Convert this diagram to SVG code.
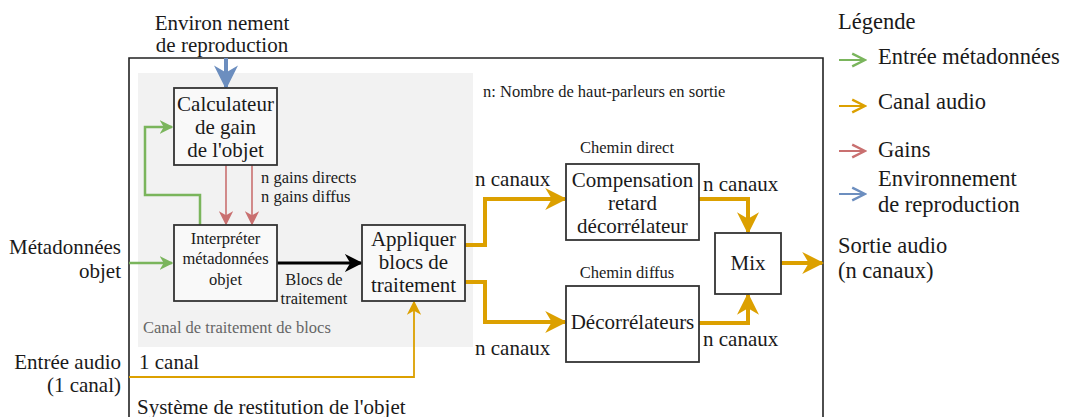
<svg xmlns="http://www.w3.org/2000/svg" width="1067" height="417" viewBox="0 0 1067 417">
<defs>
<style>
text{font-family:"Liberation Serif","Times New Roman",serif}
.xl{font-size:22.5px}
.l{font-size:21px}
.m{font-size:16.5px}
.s{font-size:16.5px}
.box{fill:#f9f9f9;stroke:#333;stroke-width:1.8}
.g{fill:none;stroke:#7ab55c;stroke-width:2.5}
.o{fill:none;stroke:#dca000;stroke-width:4}
.ot{fill:none;stroke:#dca000;stroke-width:1.8}
.r{fill:none;stroke:#c97070;stroke-width:1.6}
.b{fill:none;stroke:#6c8ebf;stroke-width:4}
</style>
<marker id="ag" viewBox="0 0 10 10" refX="9" refY="5" markerWidth="5.5" markerHeight="5.5" orient="auto" markerUnits="strokeWidth"><path d="M0,0 L10,5 L0,10 L3,5 z" fill="#7ab55c"/></marker>
<marker id="ao" viewBox="0 0 10 10" refX="9" refY="5" markerWidth="5.5" markerHeight="5.5" orient="auto" markerUnits="strokeWidth"><path d="M0,0 L10,5 L0,10 L3,5 z" fill="#dca000"/></marker>
<marker id="aot" viewBox="0 0 10 10" refX="9" refY="5" markerWidth="8" markerHeight="8" orient="auto" markerUnits="strokeWidth"><path d="M0,0 L10,5 L0,10 L3,5 z" fill="#dca000"/></marker>
<marker id="ar" viewBox="0 0 10 10" refX="9" refY="5" markerWidth="9" markerHeight="9" orient="auto" markerUnits="strokeWidth"><path d="M0,0 L10,5 L0,10 L3,5 z" fill="#c97070"/></marker>
<marker id="ab" viewBox="0 0 10 10" refX="9" refY="5" markerWidth="6" markerHeight="6" orient="auto" markerUnits="strokeWidth"><path d="M0,0 L10,5 L0,10 L3,5 z" fill="#6c8ebf"/></marker>
<marker id="ak" viewBox="0 0 10 10" refX="9" refY="5" markerWidth="6" markerHeight="6" orient="auto" markerUnits="strokeWidth"><path d="M0,0 L10,5 L0,10 L3,5 z" fill="#000"/></marker>
<marker id="lg" viewBox="0 0 10 10" refX="9" refY="5" markerWidth="8" markerHeight="8" orient="auto" markerUnits="strokeWidth"><path d="M1,1 L9,5 L1,9" fill="none" stroke="#7ab55c" stroke-width="1.5"/></marker>
<marker id="lo" viewBox="0 0 10 10" refX="9" refY="5" markerWidth="8" markerHeight="8" orient="auto" markerUnits="strokeWidth"><path d="M1,1 L9,5 L1,9" fill="none" stroke="#dca000" stroke-width="1.5"/></marker>
<marker id="lr" viewBox="0 0 10 10" refX="9" refY="5" markerWidth="8" markerHeight="8" orient="auto" markerUnits="strokeWidth"><path d="M1,1 L9,5 L1,9" fill="none" stroke="#c97070" stroke-width="1.5"/></marker>
<marker id="lb" viewBox="0 0 10 10" refX="9" refY="5" markerWidth="8" markerHeight="8" orient="auto" markerUnits="strokeWidth"><path d="M1,1 L9,5 L1,9" fill="none" stroke="#6c8ebf" stroke-width="1.5"/></marker>
</defs>
<rect width="1067" height="417" fill="#fff"/>
<g fill="#1a1a1a">

<g id="frame">
<path d="M129,417 L129,58 L823,58 L823,417" fill="none" stroke="#222" stroke-width="1.6"/>
<text x="137" y="414" class="l">Système de restitution de l'objet</text>
</g>

<g id="panel">
<rect x="138" y="73" width="335" height="274" fill="#f2f2f2"/>
<text x="143" y="333" class="s" fill="#666">Canal de traitement de blocs</text>
</g>

<g id="env-label">
<text x="222" y="30" class="l" text-anchor="middle">Environ nement</text>
<text x="222" y="52" class="l" text-anchor="middle">de reproduction</text>
</g>

<text x="483" y="97" class="s">n: Nombre de haut-parleurs en sortie</text>

<g id="connectors">
<line x1="226" y1="58" x2="226" y2="87" class="b" marker-end="url(#ab)"/>
<polyline points="200,225 200,195 145,195 145,127 172,127" class="g" marker-end="url(#ag)"/>
<line x1="226" y1="165" x2="226" y2="224" class="r" marker-end="url(#ar)"/>
<line x1="252" y1="165" x2="252" y2="224" class="r" marker-end="url(#ar)"/>
<line x1="129" y1="263" x2="172" y2="263" class="g" marker-end="url(#ag)"/>
<line x1="277" y1="263" x2="361" y2="263" stroke="#000" stroke-width="3" marker-end="url(#ak)"/>
<polyline points="129,377 414,377 414,302" class="ot" marker-end="url(#aot)"/>
<polyline points="465,245 485,245 485,199 565,199" class="o" marker-end="url(#ao)"/>
<polyline points="465,282 485,282 485,322 565,322" class="o" marker-end="url(#ao)"/>
<polyline points="699,199 748,199 748,232" class="o" marker-end="url(#ao)"/>
<polyline points="699,323 748,323 748,295" class="o" marker-end="url(#ao)"/>
<line x1="781" y1="263" x2="822" y2="263" class="o" marker-end="url(#ao)"/>
</g>

<g id="calc">
<rect x="174" y="88" width="103" height="77" class="box"/>
<text x="225.5" y="111" class="l" text-anchor="middle">Calculateur</text>
<text x="225.5" y="134" class="l" text-anchor="middle">de gain</text>
<text x="225.5" y="157" class="l" text-anchor="middle">de l'objet</text>
</g>

<g id="gains-label">
<text x="261" y="183" class="s">n gains  directs</text>
<text x="261" y="202" class="s">n gains  diffus</text>
</g>

<g id="interp">
<rect x="174" y="225" width="103" height="76" class="box"/>
<text x="225.5" y="244" class="m" text-anchor="middle">Interpréter</text>
<text x="225.5" y="264" class="m" text-anchor="middle">métadonnées</text>
<text x="225.5" y="285" class="m" text-anchor="middle">objet</text>
</g>

<g id="blocs-label">
<text x="314" y="285" class="m" text-anchor="middle">Blocs de</text>
<text x="314" y="304" class="m" text-anchor="middle">traitement</text>
</g>

<g id="appliquer">
<rect x="362" y="225" width="103" height="76" class="box"/>
<text x="413.5" y="246" class="l" text-anchor="middle">Appliquer</text>
<text x="413.5" y="269" class="l" text-anchor="middle">blocs de</text>
<text x="413.5" y="292" class="l" text-anchor="middle">traitement</text>
</g>

<g id="inputs">
<text x="121" y="254" class="l" text-anchor="end">Métadonnées</text>
<text x="121" y="278" class="l" text-anchor="end">objet</text>
<text x="121" y="369" class="l" text-anchor="end">Entrée audio</text>
<text x="121" y="392" class="l" text-anchor="end">(1 canal)</text>
<text x="139" y="369" class="l">1 canal</text>
</g>

<g id="compensation">
<text x="627" y="153" class="s" text-anchor="middle">Chemin direct</text>
<rect x="566" y="164" width="133" height="76" class="box" style="fill:#fff"/>
<text x="632.5" y="187" class="l" text-anchor="middle">Compensation</text>
<text x="632.5" y="210" class="l" text-anchor="middle">retard</text>
<text x="632.5" y="233" class="l" text-anchor="middle">décorrélateur</text>
</g>

<g id="decorr">
<text x="627" y="278" class="s" text-anchor="middle">Chemin diffus</text>
<rect x="566" y="286" width="133" height="76" class="box" style="fill:#fff"/>
<text x="632.5" y="329" class="l" text-anchor="middle">Décorrélateurs</text>
</g>

<g id="mix">
<rect x="715" y="233" width="66" height="61" class="box" style="fill:#fff"/>
<text x="748" y="270" class="l" text-anchor="middle">Mix</text>
</g>

<g id="channel-labels">
<text x="475" y="186" class="l">n canaux</text>
<text x="475" y="355" class="l">n canaux</text>
<text x="703" y="191" class="l">n canaux</text>
<text x="703" y="346" class="l">n canaux</text>
</g>

<g id="output">
<text x="838" y="253" class="xl">Sortie audio</text>
<text x="838" y="278" class="xl">(n canaux)</text>
</g>

<g id="legend">
<text x="838" y="29" class="xl">Légende</text>
<line x1="839" y1="60" x2="865" y2="60" stroke="#7ab55c" stroke-width="2" marker-end="url(#lg)"/>
<text x="878" y="64" class="xl">Entrée métadonnées</text>
<line x1="839" y1="106" x2="865" y2="106" stroke="#dca000" stroke-width="2" marker-end="url(#lo)"/>
<text x="878" y="109" class="xl">Canal audio</text>
<line x1="839" y1="151" x2="865" y2="151" stroke="#c97070" stroke-width="2" marker-end="url(#lr)"/>
<text x="878" y="157" class="xl">Gains</text>
<line x1="839" y1="194" x2="865" y2="194" stroke="#6c8ebf" stroke-width="2" marker-end="url(#lb)"/>
<text x="878" y="186" class="xl">Environnement</text>
<text x="878" y="212" class="xl">de reproduction</text>
</g>
</g>
</svg>
